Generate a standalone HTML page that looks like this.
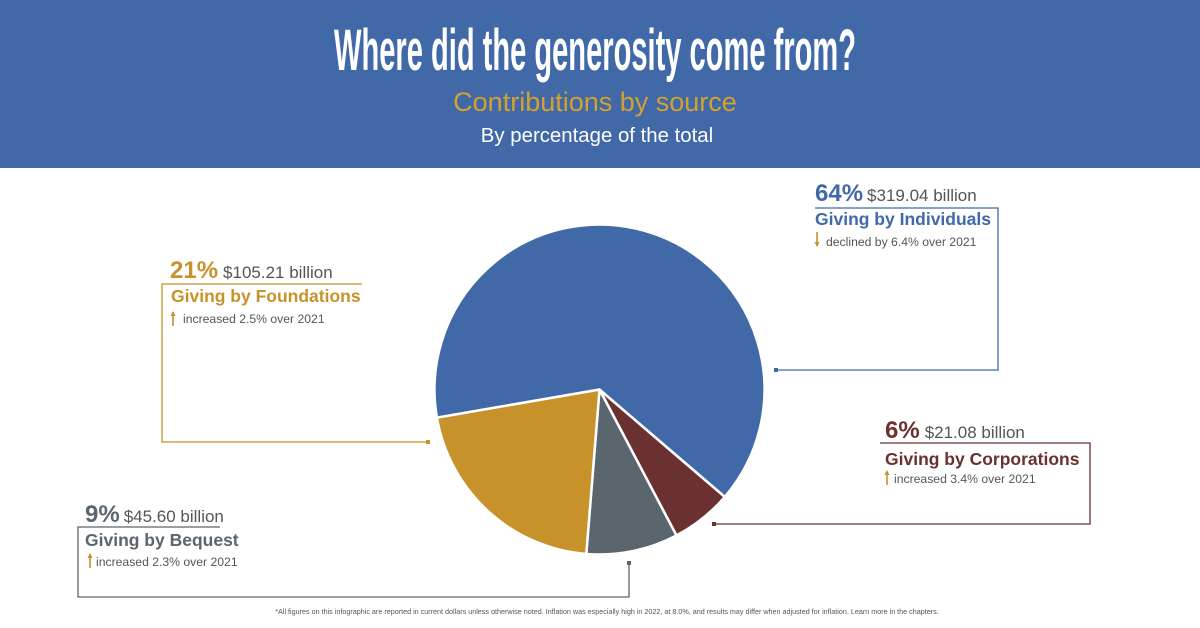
<!DOCTYPE html>
<html><head><meta charset="utf-8"><style>
body{margin:0;width:1200px;height:628px;overflow:hidden;background:#fff;font-family:"Liberation Sans",sans-serif}
svg{display:block}
</style></head><body>
<svg width="1200" height="628" viewBox="0 0 1200 628">
<rect x="0" y="0" width="1200" height="168" fill="#4169a8"/>
<text x="595" y="70" text-anchor="middle" fill="#fff" font-family="Liberation Sans Narrow, Liberation Sans, sans-serif" font-weight="bold" font-size="58" textLength="522" lengthAdjust="spacingAndGlyphs">Where did the generosity come from?</text>
<text x="595" y="111" text-anchor="middle" fill="#d4a12f" font-size="27">Contributions by source</text>
<text x="597" y="142" text-anchor="middle" fill="#fff" font-size="20.4">By percentage of the total</text>
<g id="pie"></g>
<g id="callouts"></g>
<text x="607" y="614" text-anchor="middle" fill="#555" font-size="7.2">*All figures on this infographic are reported in current dollars unless otherwise noted. Inflation was especially high in 2022, at 8.0%, and results may differ when adjusted for inflation. Learn more in the chapters.</text>
</svg>
<script>
const categories=["Corporations","Bequest","Foundations","Individuals"];
const shares=[6,9,21,64];
const colors=["#6b3030","#5b656e","#c8922b","#4169a8"];
const cx=599.5,cy=389.5,r=165,startDeg=40.6;
const NS="http://www.w3.org/2000/svg";
const pie=document.getElementById('pie');
const total=shares.reduce((a,b)=>a+b,0);
let a=startDeg*Math.PI/180;
shares.forEach((v,i)=>{
  const sweep=v/total*2*Math.PI;
  const a2=a+sweep;
  const x1=cx+r*Math.cos(a),y1=cy+r*Math.sin(a),x2=cx+r*Math.cos(a2),y2=cy+r*Math.sin(a2);
  const p=document.createElementNS(NS,'path');
  p.setAttribute('d',`M${cx},${cy}L${x1},${y1}A${r},${r} 0 ${sweep>Math.PI?1:0} 1 ${x2},${y2}Z`);
  p.setAttribute('fill',colors[i]);p.setAttribute('stroke','#fff');p.setAttribute('stroke-width','2.5');
  
  
  pie.appendChild(p);
  a=a2;
});
</script>
<script>
const co=document.getElementById('callouts');
function add(html){co.insertAdjacentHTML('beforeend',html);}
function up(x,y){return `<path d="M${x},${y}V${y-14}" stroke="#c8922b" stroke-width="1.6"/><path d="M${x-2.5},${y-10}L${x},${y-15}L${x+2.5},${y-10}Z" fill="#c8922b"/>`;}
function down(x,y){return `<path d="M${x},${y-15}V${y-1}" stroke="#c8922b" stroke-width="1.6"/><path d="M${x-2.5},${y-5}L${x},${y}L${x+2.5},${y-5}Z" fill="#c8922b"/>`;}
add(`<g>
<path d="M815,208H998V370H776" fill="none" stroke="#4169a8" stroke-width="1.3"/><rect x="774" y="368" width="4" height="4" fill="#4169a8"/>
<text x="815" y="201" font-size="17"><tspan font-weight="bold" font-size="24" fill="#4169a8">64%</tspan><tspan fill="#555" dx="4">$319.04 billion</tspan></text>
<text x="815" y="225" font-size="17.5" font-weight="bold" fill="#4169a8">Giving by Individuals</text>
${down(817,247)}<text x="826" y="246" font-size="12.2" fill="#555">declined by 6.4% over 2021</text></g>`);
add(`<g>
<path d="M362,284H162V442H428" fill="none" stroke="#c8922b" stroke-width="1.3"/><rect x="426" y="440" width="4" height="4" fill="#c8922b"/>
<text x="170" y="278" font-size="17"><tspan font-weight="bold" font-size="24" fill="#c8922b">21%</tspan><tspan fill="#555" dx="5">$105.21 billion</tspan></text>
<text x="171" y="302" font-size="17.5" font-weight="bold" fill="#c8922b">Giving by Foundations</text>
${up(173,326)}<text x="183" y="323" font-size="12.2" fill="#555">increased 2.5% over 2021</text></g>`);
add(`<g>
<path d="M880,443H1090V524H714" fill="none" stroke="#6b3030" stroke-width="1.3"/><rect x="712" y="522" width="4" height="4" fill="#6b3030"/>
<text x="885" y="438" font-size="17"><tspan font-weight="bold" font-size="24" fill="#6b3030">6%</tspan><tspan fill="#555" dx="5">$21.08 billion</tspan></text>
<text x="885" y="465" font-size="17.5" font-weight="bold" fill="#6b3030">Giving by Corporations</text>
${up(887,485)}<text x="894" y="483" font-size="12.2" fill="#555">increased 3.4% over 2021</text></g>`);
add(`<g>
<path d="M220,527H78V597H629V563" fill="none" stroke="#5b656e" stroke-width="1.3"/><rect x="627" y="561" width="4" height="4" fill="#5b656e"/>
<text x="85" y="522" font-size="17"><tspan font-weight="bold" font-size="24" fill="#5b656e">9%</tspan><tspan fill="#555" dx="4">$45.60 billion</tspan></text>
<text x="85" y="546" font-size="17.5" font-weight="bold" fill="#5b656e">Giving by Bequest</text>
${up(90,568)}<text x="96" y="566" font-size="12.2" fill="#555">increased 2.3% over 2021</text></g>`);
</script>
</body></html>
